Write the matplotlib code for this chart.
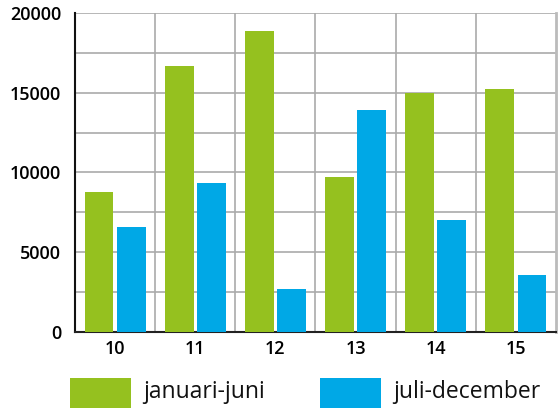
import matplotlib
matplotlib.use("Agg")
import matplotlib.pyplot as plt
from matplotlib.patches import Rectangle
import numpy as np

categories = ["10", "11", "12", "13", "14", "15"]
jan_jun = [8750, 16650, 18850, 9700, 14980, 15230]
jul_dec = [6580, 9340, 2700, 13900, 7020, 3570]
yticks = [0, 5000, 10000, 15000, 20000]
series_names = ["januari-juni", "juli-december"]

green = "#95c11f"
blue = "#00a8e6"

W, H = 559, 408


def main():
    plt.rcParams.update({"font.family": "Open Sans", "font.size": 13})
    fig = plt.figure(figsize=(W / 100, H / 100), dpi=100)
    ax = fig.add_axes([75 / W, 1 - 332 / H, 481 / W, 319 / H])

    x = np.arange(len(categories))
    w = 0.36
    gap = 0.02
    ax.bar(x - w / 2 - gap, jan_jun, width=w, color=green, zorder=3)
    ax.bar(x + w / 2 + gap, jul_dec, width=w, color=blue, zorder=3)

    ax.set_xlim(-0.5, len(categories) - 0.5)
    ax.set_ylim(0, 20000)
    ax.set_xticks(x)
    ax.set_xticklabels(categories, fontweight="semibold")
    ax.set_yticks(yticks)
    ax.set_yticklabels([str(v) for v in yticks], fontweight="semibold")
    ax.tick_params(axis="y", length=0, pad=10)
    ax.tick_params(axis="x", length=0, pad=6)

    # grid
    for yv in np.arange(2500, 20001, 2500):
        ax.axhline(yv, color="#aaaaaa", lw=1.2, zorder=1)
    for xv in np.arange(0.5, len(categories) - 0.5, 1):
        ax.axvline(xv, color="#aaaaaa", lw=1.2, zorder=1)

    ax.spines["top"].set_visible(False)
    ax.spines["right"].set_color("#bbbbbb")
    ax.spines["right"].set_linewidth(2)
    ax.spines["left"].set_color("#111111")
    ax.spines["left"].set_linewidth(1.5)
    ax.spines["bottom"].set_color("#222222")
    ax.spines["bottom"].set_linewidth(1.5)

    # legend drawn by hand, patches run off the bottom edge like the original
    for left, color, name in zip([70, 320], [green, blue], series_names):
        fig.add_artist(Rectangle((left / W, 0), 61 / W, 30 / H,
                                 transform=fig.transFigure, color=color, lw=0))
        fig.text((left + 73) / W, 1 - 398 / H, name, fontsize=16.5,
                 va="baseline", ha="left", color="#111111")

    fig.savefig("out.png", dpi=100)
    plt.close(fig)


if __name__ == "__main__":
    main()
